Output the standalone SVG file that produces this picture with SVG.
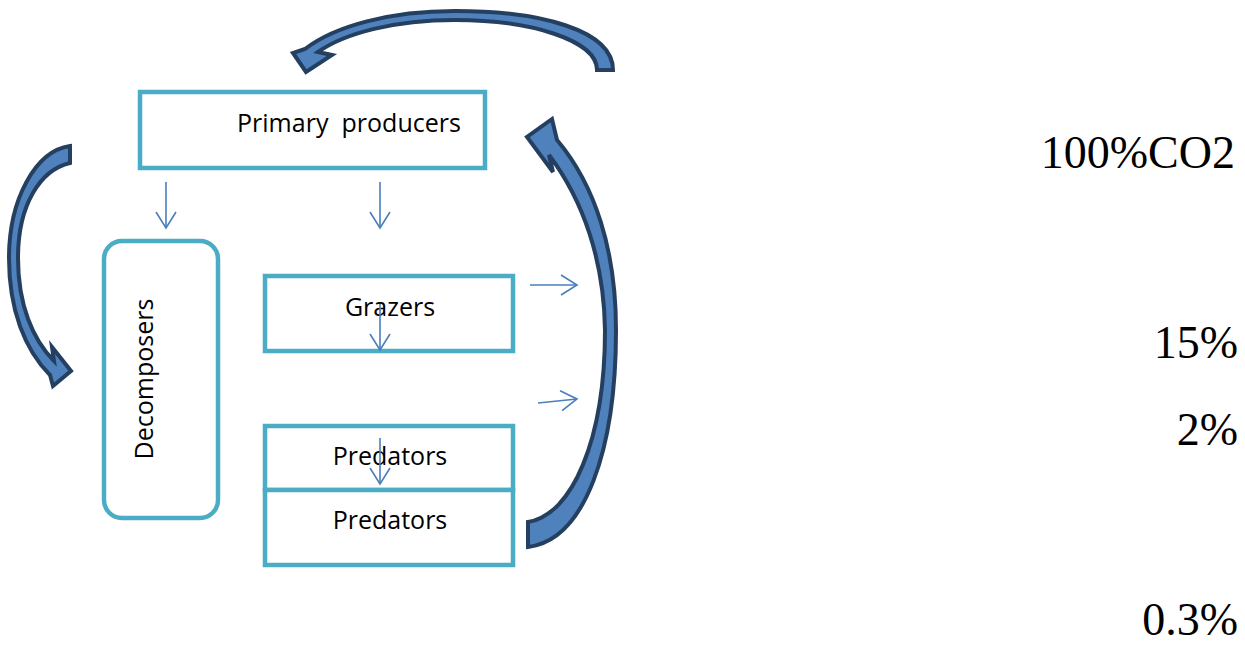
<svg xmlns="http://www.w3.org/2000/svg" width="1245" height="650" viewBox="0 0 1245 650">
<style>
.box{fill:#fff;stroke:#4bacc6;stroke-width:4.5}
.lbl{font-family:"Open Sans","Noto Sans","Liberation Sans",sans-serif;font-size:25px;fill:#000;white-space:pre}
.pct{font-family:"Liberation Serif","Times New Roman",serif;font-size:46px;fill:#000;text-anchor:end}
.thin{stroke:#4a7ebb;stroke-width:1.6;fill:none;marker-end:url(#v)}
.big{fill:#4f81bd;stroke:#243f60;stroke-width:4;stroke-linejoin:miter}
</style>
<defs>
<marker id="v" viewBox="-18 -12 20 24" refX="0" refY="0" markerWidth="20" markerHeight="24" markerUnits="userSpaceOnUse" orient="auto">
<path d="M-16,-10 L0,0 L-16,10" fill="none" stroke="#4a7ebb" stroke-width="1.6"/>
</marker>
</defs>
<rect width="1245" height="650" fill="#fff"/>
<g id="primary-producers">
<rect class="box" x="140" y="92" width="345" height="76"/>
<text class="lbl" x="237" y="132" xml:space="preserve" textLength="224" lengthAdjust="spacing">Primary  producers</text>
</g>
<g id="decomposers">
<rect class="box" x="104" y="241" width="114" height="277" rx="18"/>
<text class="lbl" transform="translate(153,379) rotate(-90)" text-anchor="middle">Decomposers</text>
</g>
<g id="grazers">
<rect class="box" x="265" y="276" width="248" height="75"/>
<text class="lbl" x="390" y="316" text-anchor="middle">Grazers</text>
</g>
<g id="predators-1">
<rect class="box" x="265" y="426" width="248" height="64"/>
<text class="lbl" x="390" y="465" text-anchor="middle">Predators</text>
</g>
<g id="predators-2">
<rect class="box" x="265" y="490" width="248" height="75"/>
<text class="lbl" x="390" y="529" text-anchor="middle">Predators</text>
</g>
<g id="labels">
<text class="pct" x="1235" y="168">100%CO2</text>
<text class="pct" x="1238" y="358">15%</text>
<text class="pct" x="1238" y="445">2%</text>
<text class="pct" x="1238" y="635">0.3%</text>
</g>
<g id="connectors">
<line class="thin" x1="166" y1="182" x2="166" y2="228"/>
<line class="thin" x1="380" y1="182" x2="380" y2="228"/>
<line class="thin" x1="380" y1="304" x2="380" y2="350"/>
<line class="thin" x1="380" y1="438" x2="380" y2="484"/>
<line class="thin" x1="530" y1="285" x2="577" y2="285"/>
<line class="thin" x1="538" y1="403" x2="577" y2="399"/>
<path class="big" d="M613 70 C613 30 540 11 455 11 C390 11 335 26 305 49 L293 53 L306 72 L332 55 L318 52 C345 33 395 20 455 20 C530 20 597 40 597 70 Z"/>
<path class="big" d="M70 146 C35 151 9 200 9 258 C9 310 25 350 50 375 L53 386 L71 371 L52 347 L54 361 C33 340 18 305 18 258 C18 205 40 170 70 163 Z"/>
<path class="big" d="M528 547 C585 540 616 450 616 330 C616 250 595 185 557 140 L552 119 L527 137 L553 172 L549 155 C583 200 604 260 605 330 C605 440 572 515 528 522 Z"/>
</g>
</svg>
